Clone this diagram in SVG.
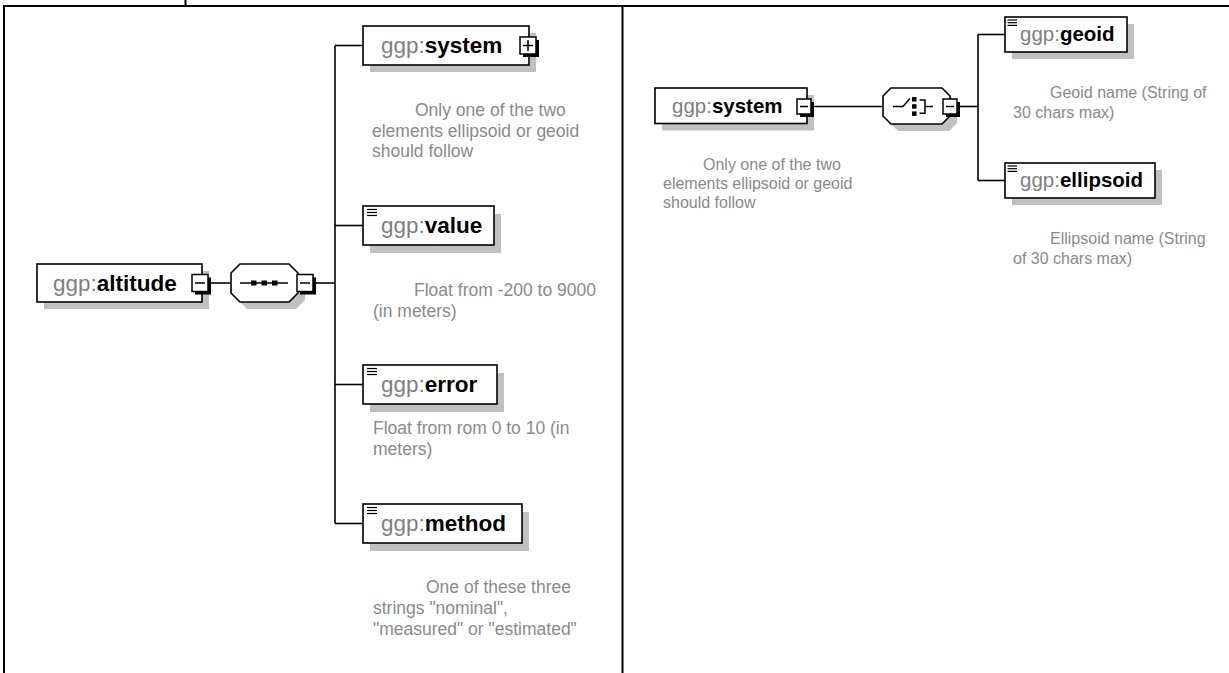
<svg xmlns="http://www.w3.org/2000/svg" width="1229" height="673" viewBox="0 0 1229 673">
<style>
.bg{fill:#fff}
.frame{fill:none;stroke:#000;stroke-width:2}
.box{fill:#fff;stroke:#000;stroke-width:1.6}
.shadow{fill:#c0c0c0}
.conn{fill:none;stroke:#000;stroke-width:1.6}
.sq{fill:#fff;stroke:#000;stroke-width:1.5}
.sqs{fill:#000}
.pm{stroke:#000;stroke-width:1.5}
.doc{stroke:#000;stroke-width:1.2}
.lbl{font-family:"Liberation Sans",Arial,sans-serif;font-size:22.5px}
.lblr{font-family:"Liberation Sans",Arial,sans-serif;font-size:20.5px}
.ns{fill:#808080}
.nm{fill:#000;font-weight:bold}
.desc{font-family:"Liberation Sans",Arial,sans-serif;font-size:17.5px;fill:#8a8a8a}
.descr{font-family:"Liberation Sans",Arial,sans-serif;font-size:16px;fill:#8a8a8a}
.ic{stroke:#000;stroke-width:1.5;fill:none}
</style>
<rect class="bg" x="0" y="0" width="1229" height="673"/>
<g id="table">
<line class="frame" x1="3" y1="6" x2="1229" y2="6"/>
<line class="frame" x1="4" y1="5" x2="4" y2="673"/>
<line class="frame" x1="622.5" y1="6" x2="622.5" y2="673"/>
<line class="frame" x1="185.5" y1="0" x2="185.5" y2="6"/>
</g>
<g id="connectors">
<line class="conn" x1="205" y1="283" x2="231" y2="283"/>
<line class="conn" x1="310" y1="283" x2="335" y2="283"/>
<line class="conn" x1="335" y1="45.5" x2="335" y2="523.5"/>
<line class="conn" x1="335" y1="45.5" x2="363" y2="45.5"/>
<line class="conn" x1="335" y1="225.5" x2="363" y2="225.5"/>
<line class="conn" x1="335" y1="384.5" x2="363" y2="384.5"/>
<line class="conn" x1="335" y1="523.5" x2="363" y2="523.5"/>
<line class="conn" x1="808" y1="106.5" x2="883" y2="106.5"/>
<line class="conn" x1="955" y1="106.5" x2="978" y2="106.5"/>
<line class="conn" x1="978" y1="34.5" x2="978" y2="180.5"/>
<line class="conn" x1="978" y1="34.5" x2="1005" y2="34.5"/>
<line class="conn" x1="978" y1="180.5" x2="1005" y2="180.5"/>
</g>
<g id="node-altitude">
<rect class="shadow" x="44" y="271" width="165" height="38"/>
<rect class="box" x="37" y="264" width="165" height="38"/>
<text class="lbl" x="53" y="290.5"><tspan class="ns">ggp:</tspan><tspan class="nm">altitude</tspan></text>
<rect class="sqs" x="195" y="277.5" width="16" height="17"/>
<rect class="sq" x="192" y="274.5" width="16" height="17"/>
<line class="pm" x1="195" y1="283" x2="205" y2="283"/>
</g>
<g id="node-sequence">
<polygon class="shadow" points="247,271 296,271 305,280 305,300 296,309 247,309 238,300 238,280"/>
<polygon class="box" points="240,264 289,264 298,273 298,293 289,302 240,302 231,293 231,273"/>
<line class="ic" x1="240" y1="283" x2="288" y2="283"/>
<rect class="sqs" x="251" y="280.5" width="5.5" height="5"/>
<rect class="sqs" x="261.5" y="280.5" width="5.5" height="5"/>
<rect class="sqs" x="272" y="280.5" width="5.5" height="5"/>
<rect class="sqs" x="300" y="277.5" width="16" height="17"/>
<rect class="sq" x="297" y="274.5" width="16" height="17"/>
<line class="pm" x1="300" y1="283" x2="310" y2="283"/>
</g>
<g id="node-system-left">
<rect class="shadow" x="370" y="33" width="166" height="39"/>
<rect class="box" x="363" y="26" width="166" height="39"/>
<text class="lbl" x="381" y="52.5"><tspan class="ns">ggp:</tspan><tspan class="nm">system</tspan></text>
<rect class="sqs" x="523" y="40" width="16" height="17"/>
<rect class="sq" x="520" y="37" width="16" height="17"/>
<line class="pm" x1="523" y1="45.5" x2="533" y2="45.5"/>
<line class="pm" x1="528" y1="40" x2="528" y2="51"/>
<text class="desc"><tspan x="415" y="116">Only one of the two</tspan><tspan x="372" y="136.5">elements ellipsoid or geoid</tspan><tspan x="372" y="157">should follow</tspan></text>
</g>
<g id="node-value">
<rect class="shadow" x="370" y="214" width="131" height="39"/>
<rect class="box" x="363" y="206" width="131" height="39"/>
<line class="doc" x1="367" y1="209.5" x2="377" y2="209.5"/>
<line class="doc" x1="367" y1="212.5" x2="377" y2="212.5"/>
<line class="doc" x1="367" y1="215.5" x2="377" y2="215.5"/>
<text class="lbl" x="381" y="232.5"><tspan class="ns">ggp:</tspan><tspan class="nm">value</tspan></text>
<text class="desc"><tspan x="414" y="296">Float from -200 to 9000</tspan><tspan x="373" y="316.5">(in meters)</tspan></text>
</g>
<g id="node-error">
<rect class="shadow" x="370" y="373" width="134" height="39"/>
<rect class="box" x="363" y="365" width="134" height="39"/>
<line class="doc" x1="367" y1="368.5" x2="377" y2="368.5"/>
<line class="doc" x1="367" y1="371.5" x2="377" y2="371.5"/>
<line class="doc" x1="367" y1="374.5" x2="377" y2="374.5"/>
<text class="lbl" x="381" y="391.5"><tspan class="ns">ggp:</tspan><tspan class="nm">error</tspan></text>
<text class="desc"><tspan x="373" y="434">Float from rom 0 to 10 (in</tspan><tspan x="373" y="454.5">meters)</tspan></text>
</g>
<g id="node-method">
<rect class="shadow" x="370" y="512" width="159" height="39"/>
<rect class="box" x="363" y="504" width="159" height="39"/>
<line class="doc" x1="367" y1="507.5" x2="377" y2="507.5"/>
<line class="doc" x1="367" y1="510.5" x2="377" y2="510.5"/>
<line class="doc" x1="367" y1="513.5" x2="377" y2="513.5"/>
<text class="lbl" x="381" y="530.5"><tspan class="ns">ggp:</tspan><tspan class="nm">method</tspan></text>
<text class="desc"><tspan x="426" y="593">One of these three</tspan><tspan x="373" y="614">strings "nominal",</tspan><tspan x="373" y="635">"measured" or "estimated"</tspan></text>
</g>
<g id="node-system-right">
<rect class="shadow" x="662" y="95" width="152" height="35.5"/>
<rect class="box" x="655" y="88" width="152" height="35.5"/>
<text class="lblr" x="672" y="113"><tspan class="ns">ggp:</tspan><tspan class="nm">system</tspan></text>
<rect class="sqs" x="800" y="102" width="14" height="15"/>
<rect class="sq" x="797" y="99" width="14" height="15"/>
<line class="pm" x1="800" y1="106.5" x2="808" y2="106.5"/>
<text class="descr"><tspan x="703" y="170">Only one of the two</tspan><tspan x="663" y="189.3">elements ellipsoid or geoid</tspan><tspan x="663" y="208.3">should follow</tspan></text>
</g>
<g id="node-choice">
<polygon class="shadow" points="898,95 949,95 957,103 957,123 949,131 898,131 890,123 890,103"/>
<polygon class="box" points="891,88 942,88 950,96 950,116 942,124 891,124 883,116 883,96"/>
<polyline class="ic" points="893,106.5 903,106.5 910,98.5"/>
<rect class="sqs" x="912" y="97" width="4.5" height="4.5"/>
<rect class="sqs" x="912" y="104.2" width="4.5" height="4.5"/>
<rect class="sqs" x="912" y="111.4" width="4.5" height="4.5"/>
<polyline class="ic" points="919.5,100 925,100 925,113.3 919.5,113.3"/>
<line class="ic" x1="925" y1="106.5" x2="933" y2="106.5"/>
<rect class="sqs" x="946" y="102" width="14" height="15"/>
<rect class="sq" x="943" y="99" width="14" height="15"/>
<line class="pm" x1="946" y1="106.5" x2="954" y2="106.5"/>
</g>
<g id="node-geoid">
<rect class="shadow" x="1012" y="24" width="122" height="35"/>
<rect class="box" x="1005" y="17" width="122" height="35"/>
<line class="doc" x1="1007.5" y1="20" x2="1017" y2="20"/>
<line class="doc" x1="1007.5" y1="22.7" x2="1017" y2="22.7"/>
<line class="doc" x1="1007.5" y1="25.4" x2="1017" y2="25.4"/>
<text class="lblr" x="1020" y="40.5"><tspan class="ns">ggp:</tspan><tspan class="nm">geoid</tspan></text>
<text class="descr"><tspan x="1050" y="98">Geoid name (String of</tspan><tspan x="1013" y="117.5">30 chars max)</tspan></text>
</g>
<g id="node-ellipsoid">
<rect class="shadow" x="1012" y="170" width="150" height="35"/>
<rect class="box" x="1005" y="163" width="150" height="35"/>
<line class="doc" x1="1007.5" y1="166" x2="1017" y2="166"/>
<line class="doc" x1="1007.5" y1="168.7" x2="1017" y2="168.7"/>
<line class="doc" x1="1007.5" y1="171.4" x2="1017" y2="171.4"/>
<text class="lblr" x="1020" y="186.5"><tspan class="ns">ggp:</tspan><tspan class="nm">ellipsoid</tspan></text>
<text class="descr"><tspan x="1050" y="244">Ellipsoid name (String</tspan><tspan x="1013" y="263.5">of 30 chars max)</tspan></text>
</g>
</svg>
